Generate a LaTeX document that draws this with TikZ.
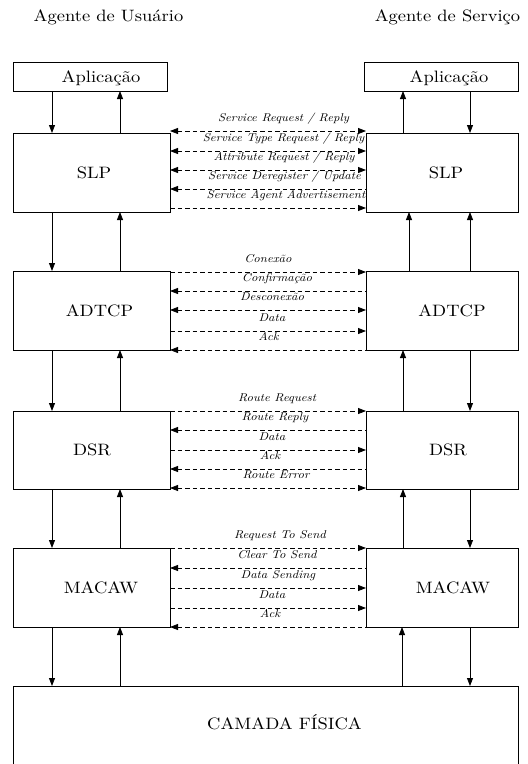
\documentclass[tikz,border=0pt]{standalone}
\usepackage{fontspec}
\setmainfont{lmroman10-regular.otf}[FakeStretch=1.12, ItalicFont=lmroman10-italic.otf]
\usetikzlibrary{arrows.meta}
\newcommand\msgline[6]{%
  \draw[msg,#4] (#1.east |- 0,#3) -- (#2.west |- 0,#3);
  \node[msgl] (m#3) at (#5,#3-9.5) {#6};}
\begin{document}
\begin{tikzpicture}[x=1pt,y=-1pt,
  >={Triangle[length=8pt,width=6pt]},
  box/.style={draw, line width=0.8pt, inner sep=0pt, outer sep=0pt},
  big/.style={font=\fontsize{16.5}{19}\selectfont, anchor=base, inner sep=0pt},
  msgl/.style={font=\fontsize{11.3}{13}\selectfont\itshape, anchor=base, inner sep=0pt},
  flow/.style={line width=0.8pt, ->},
  msg/.style={line width=0.8pt, dash pattern=on 4.5pt off 3pt},
]
\useasboundingbox (0,0) rectangle (528,764);

% titles
\node[big] (tUA) at (108.5,21) {Agente de Usuário};
\node[big] (tSA) at (447.5,21) {Agente de Serviço};

% boxes
\node[box, minimum width=154pt, minimum height=29pt] (appL) at (90,76.5) {};
\node[box, minimum width=154pt, minimum height=29pt] (appR) at (441,76.5) {};
\node[box, minimum width=157pt, minimum height=79pt] (slpL) at (91.5,172.5) {};
\node[box, minimum width=152pt, minimum height=79pt] (slpR) at (442,172.5) {};
\node[box, minimum width=157pt, minimum height=79pt] (adL) at (91.5,310.5) {};
\node[box, minimum width=152pt, minimum height=79pt] (adR) at (442,310.5) {};
\node[box, minimum width=157pt, minimum height=78pt] (dsrL) at (91.5,450) {};
\node[box, minimum width=152pt, minimum height=78pt] (dsrR) at (442,450) {};
\node[box, minimum width=157pt, minimum height=79pt] (macL) at (91.5,587.5) {};
\node[box, minimum width=152pt, minimum height=79pt] (macR) at (442,587.5) {};
\node[box, minimum width=505pt, minimum height=156pt] (phys) at (265.5,764) {};

% box texts
\node[big] (appLt) at (101,82) {Aplicação};
\node[big] (appRt) at (449,82) {Aplicação};
\node[big] (slpLt) at (94,178) {SLP};
\node[big] (slpRt) at (446,178) {SLP};
\node[big] (adLt) at (99.5,316) {ADTCP};
\node[big] (adRt) at (452,316) {ADTCP};
\node[big] (dsrLt) at (92,455.5) {DSR};
\node[big] (dsrRt) at (448,455.5) {DSR};
\node[big] (macLt) at (101,593) {MACAW};
\node[big] (macRt) at (453,593) {MACAW};
\node[big] (physt) at (284.5,729) {CAMADA FÍSICA};

% vertical flows, left column
\draw[flow] (appL.south -| 52,0) -- (slpL.north -| 52,0);
\draw[flow] (slpL.north -| 120,0) -- (appL.south -| 120,0);
\draw[flow] (slpL.south -| 52,0) -- (adL.north -| 52,0);
\draw[flow] (adL.north -| 120,0) -- (slpL.south -| 120,0);
\draw[flow] (adL.south -| 52,0) -- (dsrL.north -| 52,0);
\draw[flow] (dsrL.north -| 120,0) -- (adL.south -| 120,0);
\draw[flow] (dsrL.south -| 52,0) -- (macL.north -| 52,0);
\draw[flow] (macL.north -| 120,0) -- (dsrL.south -| 120,0);
\draw[flow] (macL.south -| 52,0) -- (phys.north -| 52,0);
\draw[flow] (phys.north -| 120,0) -- (macL.south -| 120,0);

% vertical flows, right column
\draw[flow] (slpR.north -| 403,0) -- (appR.south -| 403,0);
\draw[flow] (appR.south -| 470,0) -- (slpR.north -| 470,0);
\draw[flow] (adR.north -| 409,0) -- (slpR.south -| 409,0);
\draw[flow] (adR.north -| 470,0) -- (slpR.south -| 470,0);
\draw[flow] (dsrR.north -| 403,0) -- (adR.south -| 403,0);
\draw[flow] (adR.south -| 470,0) -- (dsrR.north -| 470,0);
\draw[flow] (macR.north -| 403,0) -- (dsrR.south -| 403,0);
\draw[flow] (dsrR.south -| 470,0) -- (macR.north -| 470,0);
\draw[flow] (phys.north -| 402,0) -- (macR.south -| 402,0);
\draw[flow] (macR.south -| 470,0) -- (phys.north -| 470,0);

% SLP messages
\msgline{slpL}{slpR}{131}{<->}{283.5}{Service Request / Reply}
\msgline{slpL}{slpR}{151}{<->}{283.5}{Service Type Request / Reply}
\msgline{slpL}{slpR}{170}{<->}{284}{Attribute Request / Reply}
\msgline{slpL}{slpR}{189}{<-}{284.5}{Service Deregister / Update}
\msgline{slpL}{slpR}{208}{->}{286}{Service Agent Advertisement}

% ADTCP messages
\msgline{adL}{adR}{272}{->}{268}{Conexão}
\msgline{adL}{adR}{291}{<-}{277}{Confirmação}
\msgline{adL}{adR}{310}{<->}{272}{Desconexão}
\msgline{adL}{adR}{331}{->}{272}{Data}
\msgline{adL}{adR}{350}{<-}{268.5}{Ack}

% DSR messages
\msgline{dsrL}{dsrR}{411}{->}{277}{Route Request}
\msgline{dsrL}{dsrR}{430}{<-}{275}{Route Reply}
\msgline{dsrL}{dsrR}{450}{->}{272}{Data}
\msgline{dsrL}{dsrR}{469}{<-}{270}{Ack}
\msgline{dsrL}{dsrR}{488}{<->}{276}{Route Error}

% MACAW messages
\msgline{macL}{macR}{548}{->}{280}{Request To Send}
\msgline{macL}{macR}{568}{<-}{277}{Clear To Send}
\msgline{macL}{macR}{588}{->}{278}{Data Sending}
\msgline{macL}{macR}{608}{->}{272}{Data}
\msgline{macL}{macR}{627}{<-}{270}{Ack}
\end{tikzpicture}
\end{document}
